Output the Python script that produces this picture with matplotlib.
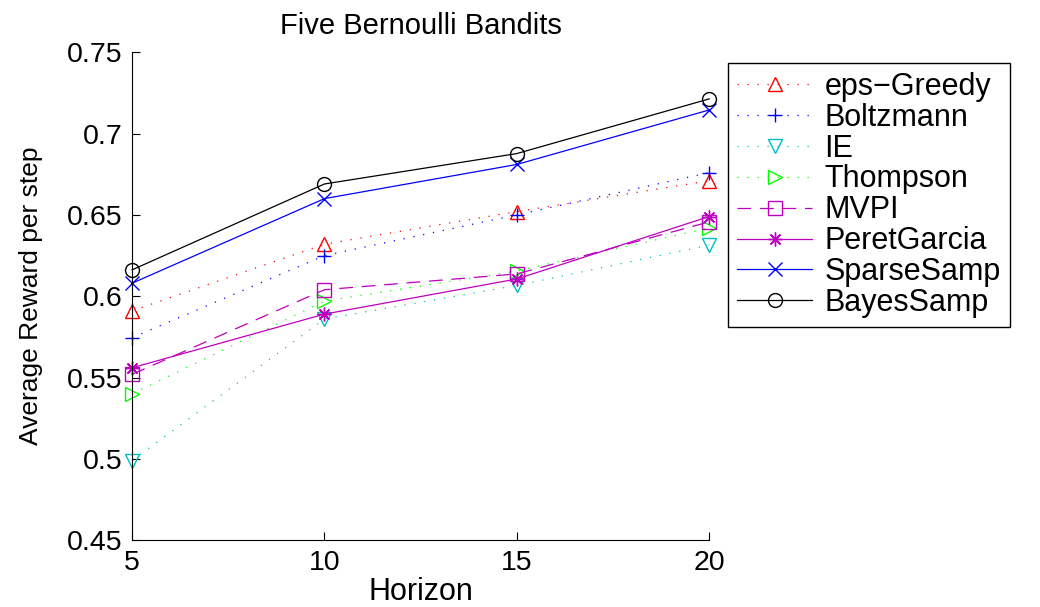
import numpy as np
import matplotlib
matplotlib.use("Agg")
import matplotlib.pyplot as plt
from matplotlib.ticker import FormatStrFormatter

plt.rcParams['font.family'] = ['Liberation Sans', 'DejaVu Sans']

# horizon values
horizon = [5, 10, 15, 20]

# average reward per step
eps_greedy = [0.591, 0.632, 0.652, 0.671]
boltzmann = [0.5745, 0.625, 0.650, 0.676]
ie = [0.499, 0.586, 0.6066, 0.6314]
thompson = [0.540, 0.597, 0.6155, 0.642]
mvpi = [0.552, 0.604, 0.6137, 0.6457]
peret_garcia = [0.556, 0.589, 0.6106, 0.649]
sparse_samp = [0.608, 0.660, 0.681, 0.7145]
bayes_samp = [0.6162, 0.669, 0.6877, 0.7213]

dots = (0, (1, 7))
dashes = (0, (11, 7))
asterisk = (8, 2, 0)

series = [
    ("eps\u2212Greedy", eps_greedy, 'r', dots, '^'),
    ("Boltzmann", boltzmann, 'b', dots, '+'),
    ("IE", ie, 'c', dots, 'v'),
    ("Thompson", thompson, 'lime', dots, '>'),
    ("MVPI", mvpi, 'm', dashes, 's'),
    ("PeretGarcia", peret_garcia, 'm', '-', asterisk),
    ("SparseSamp", sparse_samp, 'b', '-', 'x'),
    ("BayesSamp", bayes_samp, 'k', '-', 'o'),
]

fig = plt.figure(figsize=(10.4, 6.07), dpi=100)
ax = fig.add_axes([0.127, 0.11, 0.555, 0.804])

for name, vals, col, ls, mk in series:
    ax.plot(horizon, vals, color=col, linestyle=ls, linewidth=0.9,
            marker=mk, markersize=10, markerfacecolor='none',
            markeredgecolor=col, markeredgewidth=1.0, label=name,
            clip_on=False)

ax.set_xlim(5, 20)
ax.set_ylim(0.45, 0.75)
ax.set_xticks([5, 10, 15, 20])
ax.set_yticks(np.arange(0.45, 0.7501, 0.05))
ax.yaxis.set_major_formatter(FormatStrFormatter('%g'))
ax.spines['top'].set_visible(False)
ax.spines['right'].set_visible(False)
ax.tick_params(direction='in', labelsize=20.5, length=6, pad=7)

ax.set_title("Five Bernoulli Bandits", fontsize=21, pad=13)
ax.set_xlabel("Horizon", fontsize=22, labelpad=1)
ax.set_ylabel("Average Reward per step", fontsize=19)
ax.yaxis.set_label_coords(-0.155, 0.5)

leg = ax.legend(loc='upper left', bbox_to_anchor=(0.7, 0.897),
                bbox_transform=fig.transFigure, fontsize=22,
                fancybox=False, edgecolor='k', framealpha=1,
                handlelength=2.45, labelspacing=0.03, borderpad=0.3,
                handletextpad=0.4, borderaxespad=0)
leg.get_frame().set_linewidth(1.0)

fig.savefig("out.png", dpi=100)
